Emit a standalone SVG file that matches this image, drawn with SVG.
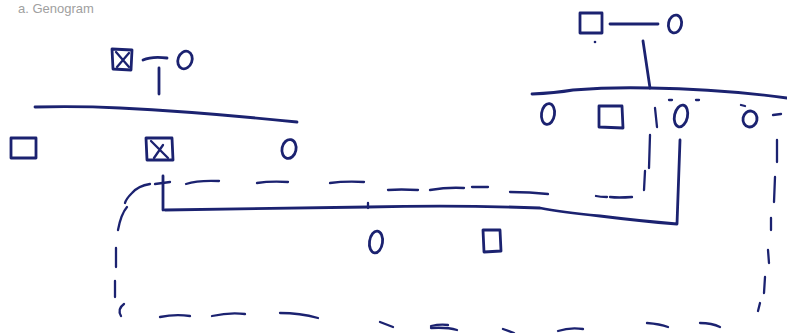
<svg xmlns="http://www.w3.org/2000/svg" width="787" height="333" viewBox="0 0 787 333">
<style>
  .ink{fill:none;stroke:#1b2270;stroke-width:2.8;stroke-linecap:round;stroke-linejoin:round}
  .thin{stroke-width:2.3}
  .title{font-family:"Liberation Sans",Arial,sans-serif;font-size:13px;fill:#a0a0a0}
</style>
<rect width="787" height="333" fill="#ffffff"/>
<text class="title" x="18" y="13">a. Genogram</text>

<g id="connectors">
  <!-- left family -->
  <path class="ink" d="M143,60 Q152,56 167,58"/>
  <path class="ink" d="M159,68 L159,94"/>
  <path class="ink" d="M35,107 Q80,106 120,108 Q200,112 297,122"/>
  <!-- right family -->
  <path class="ink" d="M610,24 L658,24"/>
  <path class="ink" d="M643,41 L650,88"/>
  <path class="ink" d="M532,94 Q555,93 573,90 Q610,87 650,88 Q720,89 787,98"/>
  <!-- solid union of middle generation -->
  <path class="ink" d="M163,176 L163,210"/>
  <path class="ink" d="M165,210 Q260,209 368,207 Q460,205 540,208 Q560,212 600,216 Q640,221 677,224 L680,140"/>
  <path class="ink thin" d="M368,203 L368,208"/>
  <!-- dashed relationship -->
  <g class="ink thin">
    <path d="M655,108 L657,127"/>
    <path d="M650,135 L649,168"/>
    <path d="M645,171 L644,190"/>
    <path d="M632,197 Q618,198 610,197"/>
    <path d="M607,197 Q600,197 596,196"/>
    <path d="M548,194 Q530,192 510,192"/>
    <path d="M488,187 L472,187"/>
    <path d="M464,188 Q448,187 430,190"/>
    <path d="M418,190 Q400,189 388,190"/>
    <path d="M364,182 Q345,181 330,183"/>
    <path d="M288,182 Q270,181 257,183"/>
    <path d="M219,181 Q198,180 186,184"/>
    <path d="M170,182 L155,184"/>
    <path d="M150,184 Q138,186 132,193 Q126,199 125,203"/>
    <path d="M127,207 Q121,214 118,230"/>
    <path d="M116,248 L116,267"/>
    <path d="M115,281 L115,297"/>
    <path d="M124,304 Q117,309 121,316"/>
    <path d="M160,317 Q175,314 190,316"/>
    <path d="M212,316 Q230,312 245,314"/>
    <path d="M280,313 Q300,313 318,318"/>
    <path d="M380,322 L393,327"/>
    <path d="M431,326 Q440,324 448,325"/>
    <path d="M431,328 Q447,327 457,330"/>
    <path d="M503,329 L514,333"/>
    <path d="M558,331 Q570,327 583,329"/>
    <path d="M647,323 Q660,324 668,327"/>
    <path d="M700,323 Q712,323 720,327"/>
    <path d="M760,303 L758,311"/>
    <path d="M765,277 L764,293"/>
    <path d="M768,250 L769,263"/>
    <path d="M771,218 L771,230"/>
    <path d="M775,177 L774,202"/>
    <path d="M777,140 L777,162"/>
    <path d="M773,115 L781,114"/>
  </g>
</g>

<g id="left-father">
  <path class="ink" d="M112,49 L132,50 L131,70 L113,69 Z"/>
  <path class="ink thin" d="M116,52 L129,67 M129,53 L117,67"/>
</g>
<g id="left-mother">
  <ellipse class="ink" cx="185" cy="60" rx="7" ry="9" transform="rotate(20 185 60)"/>
</g>
<g id="left-child-1">
  <path class="ink" d="M11,138 L36,138 L36,158 L11,158 Z"/>
</g>
<g id="left-child-2">
  <path class="ink" d="M146,138 L172,138 L173,160 L147,160 Z"/>
  <path class="ink thin" d="M151,141 L168,158 M163,145 L154,158"/>
</g>
<g id="left-child-3">
  <ellipse class="ink" cx="289" cy="149" rx="7" ry="9.5" transform="rotate(12 289 149)"/>
</g>

<g id="right-father">
  <path class="ink" d="M580,13 L580,33 L602,33 L602,13 Z"/>
  <circle cx="595" cy="42" r="1.3" fill="#1b2270"/>
</g>
<g id="right-mother">
  <ellipse class="ink" cx="675" cy="24" rx="6.5" ry="9" transform="rotate(12 675 24)"/>
</g>
<g id="right-child-1">
  <ellipse class="ink" cx="548" cy="114" rx="6.5" ry="10.5" transform="rotate(8 548 114)"/>
</g>
<g id="right-child-2">
  <path class="ink" d="M599,106 L599,127 L623,128 L622,106 Z"/>
</g>
<g id="right-child-3">
  <ellipse class="ink" cx="681" cy="116" rx="6.5" ry="11" transform="rotate(12 681 116)"/>
  <path class="ink thin" d="M669,100 L672,100 M696,100 L699,100"/>
</g>
<g id="right-child-4">
  <ellipse class="ink" cx="750" cy="119" rx="7" ry="8" transform="rotate(10 750 119)"/>
  <path class="ink thin" d="M741,105 L745,106"/>
</g>

<g id="child-daughter">
  <ellipse class="ink" cx="376" cy="242" rx="6.5" ry="11" transform="rotate(8 376 242)"/>
</g>
<g id="child-son">
  <path class="ink" d="M483,230 L500,230 L501,251 L484,252 Z"/>
</g>
</svg>
